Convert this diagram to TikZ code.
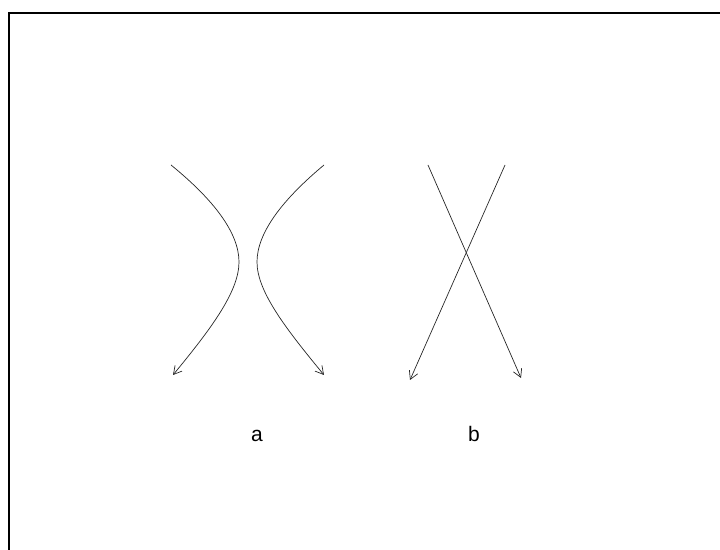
\documentclass[tikz,border=0pt]{standalone}
\usepackage{fontspec}
\setmainfont{Liberation Sans}
\usetikzlibrary{arrows.meta}
\tikzset{
  strand/.style={line width=0.7pt, black!85, -{Straight Barb[length=8pt,width=9pt,line width=0.7pt]}},
  caption/.style={font=\fontsize{21}{24}\selectfont, anchor=base}
}
\begin{document}
\begin{tikzpicture}[x=1pt,y=1pt]
			\useasboundingbox (0,0) rectangle (720,549);
			% frame
			\draw[line width=2.5pt] (9,-10) -- (9,536) -- (730,536);
			% (a) two branches that avoid each other
			\coordinate (a1s) at (171,384);
			\coordinate (a1m) at (239,287);
			\coordinate (a1e) at (173,174);
			\coordinate (a2s) at (324,384);
			\coordinate (a2m) at (257,287);
			\coordinate (a2e) at (324,174);
			\draw[strand] (a1s) .. controls (214,349) and (239,316) .. (a1m)
				.. controls (239,257) and (210,219) .. (a1e);
			\draw[strand] (a2s) .. controls (282,349) and (257,316) .. (a2m)
				.. controls (257,257) and (287,219) .. (a2e);
			% (b) two lines that cross
			\coordinate (b1s) at (428,384);
			\coordinate (b1e) at (521,171);
			\coordinate (b2s) at (505,384);
			\coordinate (b2e) at (410,169);
			\draw[strand] (b1s) -- (b1e);
			\draw[strand] (b2s) -- (b2e);
			\node[caption] (la) at (257,107) {a};
			\node[caption] (lb) at (474,107) {b};
\end{tikzpicture}
\end{document}
